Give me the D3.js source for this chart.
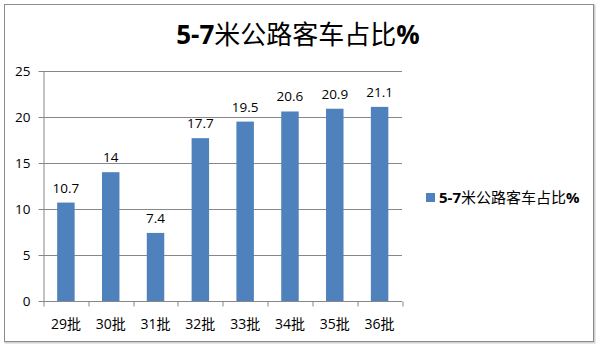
<!DOCTYPE html>
<html>
<head>
<meta charset="utf-8">
<script src="https://cdn.jsdelivr.net/npm/d3@7"></script>
<style>
  body { margin: 0; background: #fff; }
  text { font-family: "Open Sans", "Noto Sans CJK SC", sans-serif; fill: #000; }
</style>
</head>
<body>
<div id="chart-area"></div>
<script>
// data
var categories = ["29批", "30批", "31批", "32批", "33批", "34批", "35批", "36批"];
var values = [10.7, 14, 7.4, 17.7, 19.5, 20.6, 20.9, 21.1];
var yTicks = [0, 5, 10, 15, 20, 25];
var seriesName = "5-7米公路客车占比%";

var W = 600, H = 345;
var margin = {left: 43.5, right: 198, top: 71, bottom: 44};
var width = W - margin.left - margin.right,
    height = H - margin.top - margin.bottom;

var svg = d3.select("#chart-area")
  .append("svg")
    .attr("width", W)
    .attr("height", H);

// outer frame with a soft shadow
svg.append("rect")
  .attr("x", 5.5).attr("y", 5.5)
  .attr("width", 589).attr("height", 337)
  .attr("fill", "none")
  .attr("stroke", "#d0d0d0")
  .attr("stroke-width", 2);
svg.append("rect")
  .attr("x", 4.5).attr("y", 4.5)
  .attr("width", 589).attr("height", 337)
  .attr("fill", "#fff")
  .attr("stroke", "#8c8c8c")
  .attr("stroke-width", 1);

// title: latin bold, chinese regular
var title = svg.append("text")
  .attr("x", 298)
  .attr("y", 44)
  .attr("text-anchor", "middle")
  .attr("font-size", "26px");
title.append("tspan").attr("font-weight", "bold").text("5-7");
title.append("tspan").text("米公路客车占比");
title.append("tspan").attr("font-weight", "bold").text("%");

var g = svg.append("g")
  .attr("transform", "translate(" + margin.left + "," + margin.top + ")");

var x = d3.scaleBand()
  .domain(categories)
  .range([0, width])
  .paddingInner(0.61)
  .paddingOuter(0.305);

var y = d3.scaleLinear()
  .domain([0, 25])
  .range([height, 0]);

// gridlines
g.append("g")
  .selectAll("line")
  .data(yTicks)
  .enter().append("line")
    .attr("x1", -5)
    .attr("x2", width)
    .attr("y1", function(d) { return Math.round(y(d)) + 0.5; })
    .attr("y2", function(d) { return Math.round(y(d)) + 0.5; })
    .attr("stroke", "#878787")
    .attr("stroke-width", 1);

// y axis
var yAxis = d3.axisLeft(y).tickValues(yTicks).tickSize(0).tickPadding(13);
var yg = g.append("g").call(yAxis);
yg.select(".domain").attr("stroke", "#878787");
yg.selectAll("text").attr("font-size", "13.5px").attr("fill", "#000");

// bars
g.selectAll(".bar")
  .data(values)
  .enter().append("rect")
    .attr("class", "bar")
    .attr("x", function(d, i) { return x(categories[i]); })
    .attr("width", x.bandwidth())
    .attr("y", function(d) { return y(d); })
    .attr("height", function(d) { return height - y(d); })
    .attr("fill", "#4f81bd");

// data labels
g.selectAll(".label")
  .data(values)
  .enter().append("text")
    .attr("class", "label")
    .attr("x", function(d, i) { return x(categories[i]) + x.bandwidth() / 2; })
    .attr("y", function(d) { return y(d) - 10; })
    .attr("text-anchor", "middle")
    .attr("font-size", "13.5px")
    .text(function(d) { return d; });

// x axis with ticks between categories
var xg = g.append("g")
  .attr("transform", "translate(0," + (Math.round(height) + 0.5) + ")");
xg.append("line")
  .attr("x1", 0).attr("x2", width)
  .attr("stroke", "#878787");
xg.selectAll(".tick")
  .data(d3.range(categories.length + 1))
  .enter().append("line")
    .attr("x1", function(d) { return Math.round(d * x.step()) + 0.5; })
    .attr("x2", function(d) { return Math.round(d * x.step()) + 0.5; })
    .attr("y1", 0).attr("y2", 5)
    .attr("stroke", "#878787");
xg.selectAll(".cat")
  .data(categories)
  .enter().append("text")
    .attr("x", function(d) { return x(d) + x.bandwidth() / 2; })
    .attr("y", 27)
    .attr("text-anchor", "middle")
    .attr("font-size", "14px")
    .text(function(d) { return d; });

// legend
svg.append("rect")
  .attr("x", 426).attr("y", 193)
  .attr("width", 9).attr("height", 9)
  .attr("fill", "#4f81bd");
var leg = svg.append("text")
  .attr("x", 439)
  .attr("y", 203)
  .attr("font-size", "15px");
leg.append("tspan").attr("font-weight", "bold").text("5-7");
leg.append("tspan").text("米公路客车占比");
leg.append("tspan").attr("font-weight", "bold").text("%");
</script>
</body>
</html>
